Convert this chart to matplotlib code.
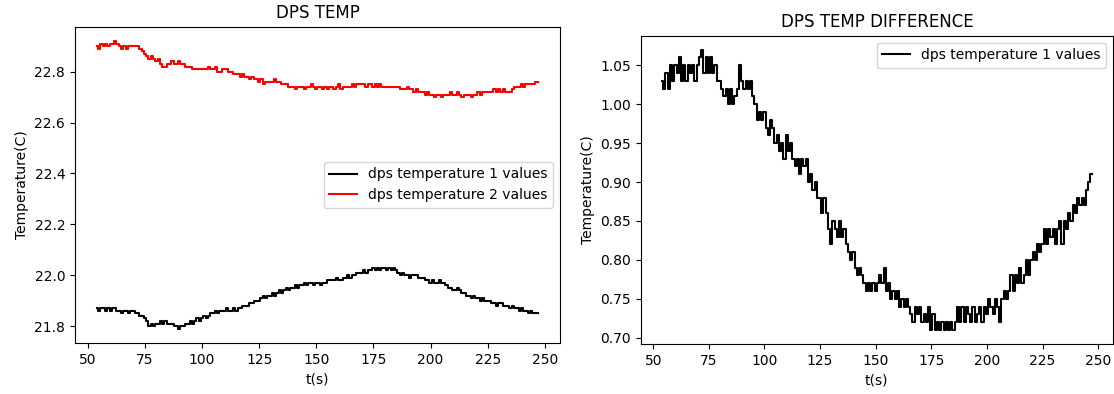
import numpy as np
import matplotlib
matplotlib.use("Agg")
import matplotlib.pyplot as plt

# valeurs lues toutes les secondes de 54 s a 247 s
t_debut = 54
t_fin = 247

temp1 = [
    21.87, 21.86, 21.87, 21.87, 21.86, 21.87, 21.86, 21.87, 21.87, 21.86,
    21.86, 21.85, 21.86, 21.86, 21.85, 21.86, 21.86, 21.85, 21.85, 21.84,
    21.84, 21.83, 21.82, 21.80, 21.81, 21.80, 21.81, 21.81, 21.82, 21.81,
    21.82, 21.81, 21.81, 21.81, 21.80, 21.80, 21.79, 21.80, 21.80, 21.81,
    21.81, 21.82, 21.81, 21.82, 21.83, 21.82, 21.83, 21.84, 21.83, 21.84,
    21.85, 21.85, 21.86, 21.85, 21.86, 21.86, 21.86, 21.87, 21.86, 21.86,
    21.87, 21.86, 21.87, 21.87, 21.88, 21.88, 21.88, 21.89, 21.89, 21.90,
    21.90, 21.90, 21.91, 21.92, 21.91, 21.92, 21.92, 21.93, 21.92, 21.93,
    21.94, 21.93, 21.94, 21.95, 21.94, 21.95, 21.95, 21.96, 21.95, 21.96,
    21.96, 21.97, 21.96, 21.97, 21.97, 21.96, 21.97, 21.97, 21.96, 21.97,
    21.97, 21.98, 21.98, 21.98, 21.98, 21.99, 21.98, 21.98, 21.99, 21.99,
    22.00, 21.99, 22.00, 22.00, 22.01, 22.01, 22.01, 22.02, 22.01, 22.02,
    22.02, 22.03, 22.02, 22.03, 22.02, 22.03, 22.03, 22.02, 22.03, 22.02,
    22.03, 22.02, 22.01, 22.00, 22.01, 22.00, 22.00, 21.99, 22.00, 22.00,
    22.00, 21.99, 21.99, 21.99, 21.98, 21.98, 21.97, 21.98, 21.97, 21.97,
    21.98, 21.97, 21.97, 21.96, 21.95, 21.95, 21.94, 21.94, 21.95, 21.94,
    21.93, 21.93, 21.92, 21.92, 21.91, 21.92, 21.91, 21.91, 21.90, 21.91,
    21.90, 21.90, 21.90, 21.89, 21.89, 21.88, 21.89, 21.89, 21.88, 21.88,
    21.88, 21.87, 21.88, 21.87, 21.87, 21.86, 21.87, 21.86, 21.86, 21.85,
    21.86, 21.85, 21.85, 21.85,
]

temp2 = [
    22.90, 22.89, 22.91, 22.90, 22.91, 22.90, 22.91, 22.91, 22.92, 22.91,
    22.90, 22.89, 22.90, 22.89, 22.90, 22.90, 22.90, 22.90, 22.90, 22.89,
    22.88, 22.87, 22.86, 22.85, 22.86, 22.85, 22.84, 22.85, 22.83, 22.82,
    22.82, 22.83, 22.83, 22.84, 22.83, 22.83, 22.84, 22.83, 22.83, 22.82,
    22.82, 22.82, 22.81, 22.81, 22.81, 22.81, 22.81, 22.81, 22.81, 22.82,
    22.81, 22.81, 22.82, 22.80, 22.80, 22.81, 22.81, 22.81, 22.80, 22.80,
    22.79, 22.79, 22.79, 22.78, 22.79, 22.78, 22.78, 22.77, 22.78, 22.77,
    22.77, 22.76, 22.77, 22.75, 22.76, 22.76, 22.76, 22.76, 22.77, 22.76,
    22.76, 22.75, 22.75, 22.75, 22.74, 22.74, 22.74, 22.73, 22.74, 22.74,
    22.74, 22.73, 22.74, 22.74, 22.75, 22.74, 22.73, 22.74, 22.74, 22.73,
    22.74, 22.73, 22.74, 22.74, 22.73, 22.74, 22.75, 22.73, 22.74, 22.74,
    22.74, 22.74, 22.75, 22.74, 22.75, 22.75, 22.75, 22.75, 22.74, 22.75,
    22.75, 22.74, 22.75, 22.74, 22.75, 22.74, 22.74, 22.74, 22.74, 22.74,
    22.74, 22.74, 22.74, 22.73, 22.73, 22.73, 22.74, 22.73, 22.73, 22.72,
    22.73, 22.72, 22.72, 22.72, 22.71, 22.72, 22.71, 22.71, 22.70, 22.71,
    22.71, 22.70, 22.71, 22.71, 22.71, 22.72, 22.71, 22.71, 22.72, 22.71,
    22.70, 22.71, 22.71, 22.71, 22.70, 22.71, 22.71, 22.72, 22.71, 22.72,
    22.72, 22.72, 22.72, 22.72, 22.73, 22.72, 22.73, 22.72, 22.73, 22.72,
    22.72, 22.72, 22.73, 22.74, 22.74, 22.74, 22.75, 22.74, 22.75, 22.75,
    22.75, 22.75, 22.76, 22.76,
]

# courbe de difference lue directement sur le graphe de droite
diff_temp = [
    1.03, 1.02, 1.04, 1.02, 1.05, 1.03, 1.05, 1.04, 1.06, 1.03,
    1.05, 1.03, 1.05, 1.04, 1.05, 1.03, 1.05, 1.06, 1.07, 1.04,
    1.06, 1.04, 1.06, 1.04, 1.05, 1.03, 1.03, 1.02, 1.01, 1.02,
    1.00, 1.02, 1.00, 1.01, 1.02, 1.05, 1.03, 1.02, 1.03, 1.02,
    1.03, 1.01, 1.00, 0.98, 0.99, 0.98, 0.99, 0.97, 0.96, 0.98,
    0.97, 0.95, 0.96, 0.94, 0.95, 0.93, 0.96, 0.94, 0.95, 0.93,
    0.92, 0.93, 0.91, 0.93, 0.92, 0.93, 0.90, 0.91, 0.89, 0.90,
    0.88, 0.88, 0.86, 0.88, 0.86, 0.84, 0.82, 0.85, 0.84, 0.83,
    0.85, 0.83, 0.84, 0.82, 0.81, 0.80, 0.81, 0.79, 0.78, 0.79,
    0.78, 0.77, 0.76, 0.77, 0.76, 0.77, 0.76, 0.77, 0.78, 0.77,
    0.79, 0.76, 0.77, 0.75, 0.76, 0.75, 0.76, 0.74, 0.75, 0.74,
    0.75, 0.74, 0.73, 0.72, 0.74, 0.73, 0.74, 0.72, 0.73, 0.72,
    0.74, 0.71, 0.73, 0.71, 0.72, 0.71, 0.72, 0.71, 0.72, 0.71,
    0.72, 0.71, 0.72, 0.74, 0.72, 0.74, 0.72, 0.74, 0.73, 0.72,
    0.74, 0.72, 0.73, 0.74, 0.72, 0.74, 0.73, 0.75, 0.74, 0.73,
    0.75, 0.74, 0.72, 0.75, 0.76, 0.75, 0.76, 0.78, 0.76, 0.78,
    0.77, 0.79, 0.77, 0.78, 0.80, 0.78, 0.80, 0.81, 0.80, 0.82,
    0.81, 0.82, 0.84, 0.82, 0.84, 0.83, 0.84, 0.82, 0.84, 0.85,
    0.82, 0.85, 0.84, 0.86, 0.85, 0.87, 0.86, 0.88, 0.87, 0.88,
    0.87, 0.89, 0.90, 0.91,
]

temps = np.arange(t_debut, t_fin + 1)

fig = plt.figure(figsize=(11.14, 3.94), dpi=100)
ax1 = fig.add_axes([0.0673, 0.1294, 0.4354, 0.8028])
ax2 = fig.add_axes([0.5751, 0.1269, 0.4240, 0.7825])

ax1.plot(temps, temp1, color="black", drawstyle="steps-mid",
         label="dps temperature 1 values")
ax1.plot(temps, temp2, color="red", drawstyle="steps-mid",
         label="dps temperature 2 values")
ax1.set_title("DPS TEMP")
ax1.set_xlabel("t(s)")
ax1.set_ylabel("Temperature(C)")
ax1.legend(loc="center right")

ax2.plot(temps, diff_temp, color="black", drawstyle="steps-mid",
         label="dps temperature 1 values")
ax2.set_title("DPS TEMP DIFFERENCE")
ax2.set_xlabel("t(s)")
ax2.set_ylabel("Temperature(C)")
ax2.legend(loc="upper right")

fig.savefig("out.png", dpi=100)
